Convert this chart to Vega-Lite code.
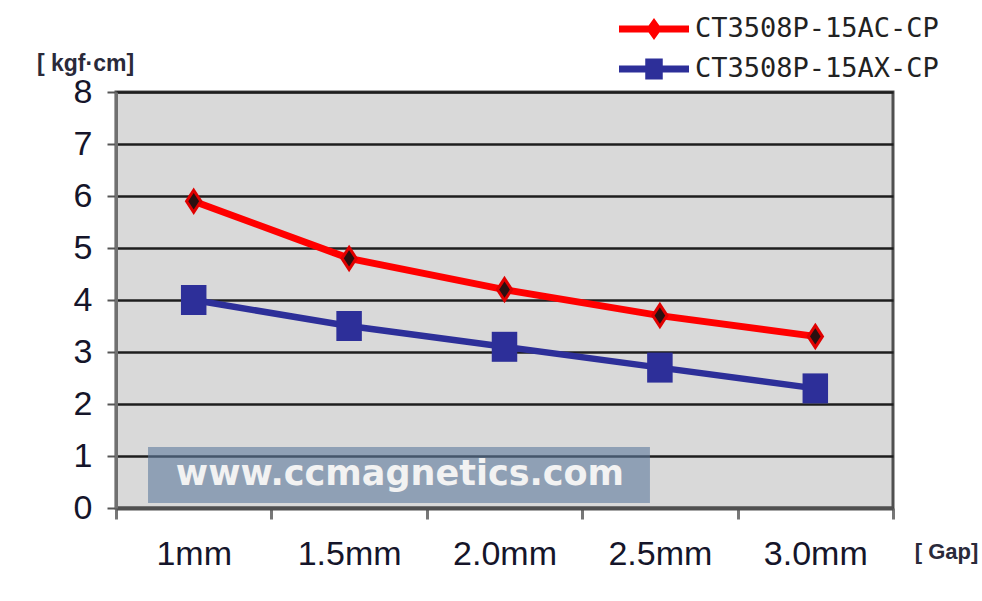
{
  "$schema": "https://vega.github.io/schema/vega-lite/v6.json",
  "width": 777,
  "height": 416,
  "autosize": {"type": "none"},
  "padding": {"left": 116, "top": 92, "right": 89, "bottom": 93},
  "background": "white",
  "config": {
    "view": {"fill": "#d9d9d9", "stroke": "#505050", "strokeWidth": 3},
    "axis": {"labelFont": "Liberation Sans", "titleFont": "Liberation Sans"}
  },
  "data": {
    "values": [
      {"gap": "1mm", "series": "CT3508P-15AC-CP", "torque": 5.9},
      {"gap": "1.5mm", "series": "CT3508P-15AC-CP", "torque": 4.8},
      {"gap": "2.0mm", "series": "CT3508P-15AC-CP", "torque": 4.2},
      {"gap": "2.5mm", "series": "CT3508P-15AC-CP", "torque": 3.7},
      {"gap": "3.0mm", "series": "CT3508P-15AC-CP", "torque": 3.3},
      {"gap": "1mm", "series": "CT3508P-15AX-CP", "torque": 4.0},
      {"gap": "1.5mm", "series": "CT3508P-15AX-CP", "torque": 3.5},
      {"gap": "2.0mm", "series": "CT3508P-15AX-CP", "torque": 3.1},
      {"gap": "2.5mm", "series": "CT3508P-15AX-CP", "torque": 2.7},
      {"gap": "3.0mm", "series": "CT3508P-15AX-CP", "torque": 2.3}
    ]
  },
  "resolve": {"scale": {"x": "independent"}},
  "layer": [
    {
      "encoding": {
        "x": {
          "field": "gap", "type": "nominal",
          "sort": ["1mm", "1.5mm", "2.0mm", "2.5mm", "3.0mm"],
          "scale": {"paddingInner": 0, "paddingOuter": 0},
          "axis": {
            "orient": "bottom", "labelAngle": 0, "labelFontSize": 34, "labelColor": "#15152a",
            "labelPadding": 18, "labelBaseline": "top",
            "domainColor": "#505050", "domainWidth": 4,
            "tickBand": "extent", "tickSize": 11, "tickColor": "#777777", "tickWidth": 3,
            "grid": false,
            "title": "[ Gap]", "titleX": 830, "titleY": 43, "titleAlign": "center",
            "titleBaseline": "middle", "titleFontSize": 22, "titleFontWeight": "bold", "titleColor": "#2a2a3a"
          }
        },
        "y": {
          "field": "torque", "type": "quantitative",
          "scale": {"domain": [0, 8], "nice": false},
          "axis": {
            "values": [0, 1, 2, 3, 4, 5, 6, 7, 8],
            "labelFontSize": 34, "labelColor": "#15152a", "labelPadding": 15,
            "domainColor": "#707070", "domainWidth": 3,
            "tickColor": "#555555", "tickSize": 9, "tickWidth": 2,
            "grid": true, "gridColor": "#1e1e1e", "gridWidth": 2.5,
            "title": "[ kgf·cm]", "titleAngle": 0, "titleX": -31, "titleY": -17,
            "titleAlign": "center", "titleBaseline": "bottom", "titleFontSize": 23,
            "titleFontWeight": "bold", "titleColor": "#2a2a3a"
          }
        }
      },
      "layer": [
        {
          "transform": [{"filter": "datum.series == 'CT3508P-15AC-CP'"}],
          "mark": {"type": "line", "strokeWidth": 7, "color": "#ff0000"}
        },
        {
          "transform": [{"filter": "datum.series == 'CT3508P-15AX-CP'"}],
          "mark": {"type": "line", "strokeWidth": 6.5, "color": "#2d2f99"}
        },
        {
          "transform": [{"filter": "datum.series == 'CT3508P-15AC-CP'"}],
          "mark": {"type": "point", "filled": true, "opacity": 1, "shape": "M0,-1L0.65,0L0,1L-0.65,0Z", "size": 484, "fill": "#2a1010", "stroke": "#e00000", "strokeWidth": 3}
        },
        {
          "transform": [{"filter": "datum.series == 'CT3508P-15AX-CP'"}],
          "mark": {"type": "point", "filled": true, "opacity": 1, "shape": "M-0.85,-1H0.85V1H-0.85Z", "size": 900, "fill": "#2d2f99"}
        },
        {
          "mark": {"type": "point", "filled": true, "opacity": 0},
          "encoding": {
            "color": {
              "field": "series", "type": "nominal",
              "scale": {"domain": ["CT3508P-15AC-CP", "CT3508P-15AX-CP"], "range": ["#ff0000", "#2d2f99"]},
              "legend": {
                "orient": "none", "legendX": 520.5, "legendY": -80.5, "title": null, "padding": 0,
                "labelFont": "DejaVu Sans Mono", "labelFontSize": 27, "labelColor": "#222222", "labelLimit": 0,
                "symbolSize": 1225, "symbolStrokeWidth": 0, "symbolOpacity": 1,
                "rowPadding": 9, "labelOffset": 23.5,
                "encode": {"symbols": {"update": {"opacity": {"value": 1}}}}
              }
            },
            "shape": {
              "field": "series", "type": "nominal",
              "scale": {"domain": ["CT3508P-15AC-CP", "CT3508P-15AX-CP"], "range": ["M-2,-0.2H2V0.2H-2Z M0,-0.63L0.45,0L0,0.63L-0.45,0Z", "M-2,-0.2H2V0.2H-2Z M-0.5,-0.6H0.5V0.6H-0.5Z"]},
              "legend": {
                "orient": "none", "legendX": 520.5, "legendY": -80.5, "title": null, "padding": 0,
                "labelFont": "DejaVu Sans Mono", "labelFontSize": 27, "labelColor": "#222222", "labelLimit": 0,
                "symbolSize": 1225, "symbolStrokeWidth": 0, "symbolOpacity": 1,
                "rowPadding": 9, "labelOffset": 23.5,
                "encode": {"symbols": {"update": {"opacity": {"value": 1}}}}
              }
            }
          }
        }
      ]
    },
    {
      "data": {"values": [{"site": "www.ccmagnetics.com"}]},
      "layer": [
        {
          "mark": {"type": "rect", "color": "#5e7a9d", "opacity": 0.6},
          "encoding": {
            "x": {"datum": 0.206, "type": "quantitative", "scale": {"domain": [0, 5], "nice": false}, "axis": null},
            "x2": {"datum": 3.436},
            "y": {"datum": 0.096, "type": "quantitative"},
            "y2": {"datum": 1.173}
          }
        },
        {
          "mark": {"type": "text", "font": "DejaVu Sans", "fontWeight": "bold", "fontSize": 35, "color": "#f2f2f2", "baseline": "middle", "align": "center"},
          "encoding": {
            "x": {"datum": 1.827, "type": "quantitative"},
            "y": {"datum": 0.66, "type": "quantitative"},
            "text": {"field": "site"}
          }
        }
      ]
    }
  ]
}
